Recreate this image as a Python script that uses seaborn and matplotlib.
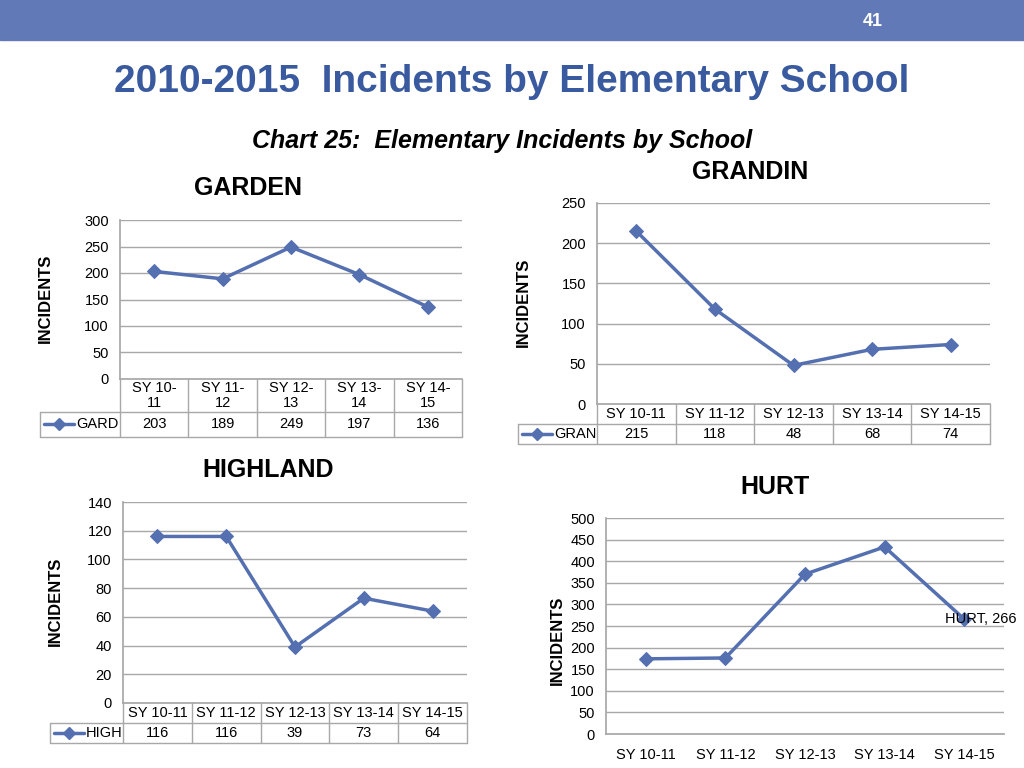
import matplotlib
matplotlib.use("Agg")
import matplotlib.pyplot as plt
import seaborn as sns
import pandas as pd
from matplotlib.lines import Line2D
from matplotlib.patches import Rectangle

# school years shown on every panel
years = ["SY 10-11", "SY 11-12", "SY 12-13", "SY 13-14", "SY 14-15"]
years_wrapped = ["SY 10-\n11", "SY 11-\n12", "SY 12-\n13", "SY 13-\n14", "SY 14-\n15"]

garden = [203, 189, 249, 197, 136]
grandin = [215, 118, 48, 68, 74]
highland = [116, 116, 39, 73, 64]
hurt = [174, 176, 370, 433, 266]

W, H = 1024, 768
LINE = "#5470B0"
GRID = "#A8A8A8"
FS = 10.5

sns.set_theme(style="white")
plt.rcParams["font.family"] = ["Liberation Sans", "DejaVu Sans"]
plt.rcParams["text.color"] = "black"
plt.rcParams["xtick.color"] = "black"
plt.rcParams["ytick.color"] = "black"

fig = plt.figure(figsize=(W / 100, H / 100), dpi=100)


def fx(x):
    return x / W


def fy(y):
    return 1 - y / H


# header band + page number
fig.add_artist(Rectangle((0, fy(40)), 1, 40 / H, transform=fig.transFigure,
                         color="#6179B6", zorder=0))
fig.text(fx(873), fy(22), "41", color="white", fontsize=13, fontweight="bold",
         ha="center", va="center")
fig.text(fx(512), fy(82), "2010-2015  Incidents by Elementary School",
         fontsize=28, fontweight="bold", color="#3A5A9F", ha="center", va="center")
fig.text(fx(502), fy(141), "Chart 25:  Elementary Incidents by School", fontsize=18,
         fontweight="bold", style="italic", ha="center", va="center")


def panel(name, abbr, values, ymax, ystep, rect, title_xy, ylab_xy, cats, table=None):
    x0, y0, x1, y1 = rect
    ax = fig.add_axes([fx(x0), fy(y1), (x1 - x0) / W, (y1 - y0) / H])
    df = pd.DataFrame({"year": list(range(len(values))), "n": values})
    sns.lineplot(data=df, x="year", y="n", ax=ax, color=LINE, lw=2.5,
                 marker="D", markersize=7, markeredgecolor=LINE)
    ax.set_xlim(-0.5, len(values) - 0.5)
    ax.set_ylim(0, ymax)
    ax.set_yticks(range(0, ymax + 1, ystep))
    ax.tick_params(axis="y", length=0, pad=8, labelsize=FS)
    ax.grid(axis="y", color=GRID, lw=1)
    ax.set_axisbelow(True)
    for s in ["top", "right"]:
        ax.spines[s].set_visible(False)
    ax.spines["left"].set_color(GRID)
    ax.spines["bottom"].set_color(GRID)
    ax.set_xlabel("")
    ax.set_ylabel("")
    fig.text(fx(title_xy[0]), fy(title_xy[1]), name, fontsize=18, fontweight="bold",
             ha="center", va="center")
    fig.text(fx(ylab_xy[0]), fy(ylab_xy[1]), "INCIDENTS", fontsize=12, fontweight="bold",
             rotation=90, ha="center", va="center")

    if table is None:
        ax.set_xticks(range(len(values)))
        ax.set_xticklabels(cats)
        ax.tick_params(axis="x", length=0, pad=10, labelsize=FS)
        return ax

    ax.set_xticks([])
    r1, r2, labx = table
    h, w = y1 - y0, x1 - x0
    a1, a2 = -r1 / h, -(r1 + r2) / h
    lx = -(x0 - labx) / w
    kw = dict(transform=ax.transAxes, color=GRID, lw=1, clip_on=False)
    n = len(values)
    for k in range(n + 1):
        ax.add_artist(Line2D([k / n, k / n], [0, a2], **kw))
    ax.add_artist(Line2D([lx, 1], [a1, a1], **kw))
    ax.add_artist(Line2D([lx, 1], [a2, a2], **kw))
    ax.add_artist(Line2D([lx, lx], [a1, a2], **kw))
    tr = ax.get_xaxis_transform()
    for i, (c, v) in enumerate(zip(cats, values)):
        ax.text(i, a1 / 2, c, transform=tr, ha="center", va="center", fontsize=FS,
                linespacing=1.1)
        ax.text(i, (a1 + a2) / 2, str(v), transform=tr, ha="center", va="center",
                fontsize=FS)
    # legend key in row label cell
    ym = (a1 + a2) / 2
    ax.add_artist(Line2D([lx + 4 / w, lx + 34 / w], [ym, ym], transform=ax.transAxes,
                         color=LINE, lw=2.5, clip_on=False))
    ax.add_artist(Line2D([lx + 19 / w], [ym], transform=ax.transAxes, color=LINE,
                         marker="D", markersize=6, clip_on=False))
    ax.text(lx + 36 / w, ym, abbr, transform=ax.transAxes, ha="left", va="center",
            fontsize=FS)
    return ax


panel("GARDEN", "GARD", garden, 300, 50, (120, 220, 462, 379), (248, 188), (45, 298),
      years_wrapped, table=(33, 25, 40))
panel("GRANDIN", "GRAN", grandin, 250, 50, (597, 203, 990, 404), (750, 172), (523, 302),
      years, table=(20, 20, 518))
panel("HIGHLAND", "HIGH", highland, 140, 20, (123, 502, 467, 703), (268, 470), (55, 601),
      years, table=(20, 20, 50))
ax = panel("HURT", "HURT", hurt, 500, 50, (606, 518, 1004, 734), (775, 487), (557, 640),
           years)
ax.annotate(f"HURT, {hurt[-1]}", (len(hurt) - 1, hurt[-1]), xytext=(-14, 0),
            textcoords="offset points", ha="left", va="center", fontsize=FS,
            annotation_clip=False)

fig.savefig("out.png", dpi=100)
